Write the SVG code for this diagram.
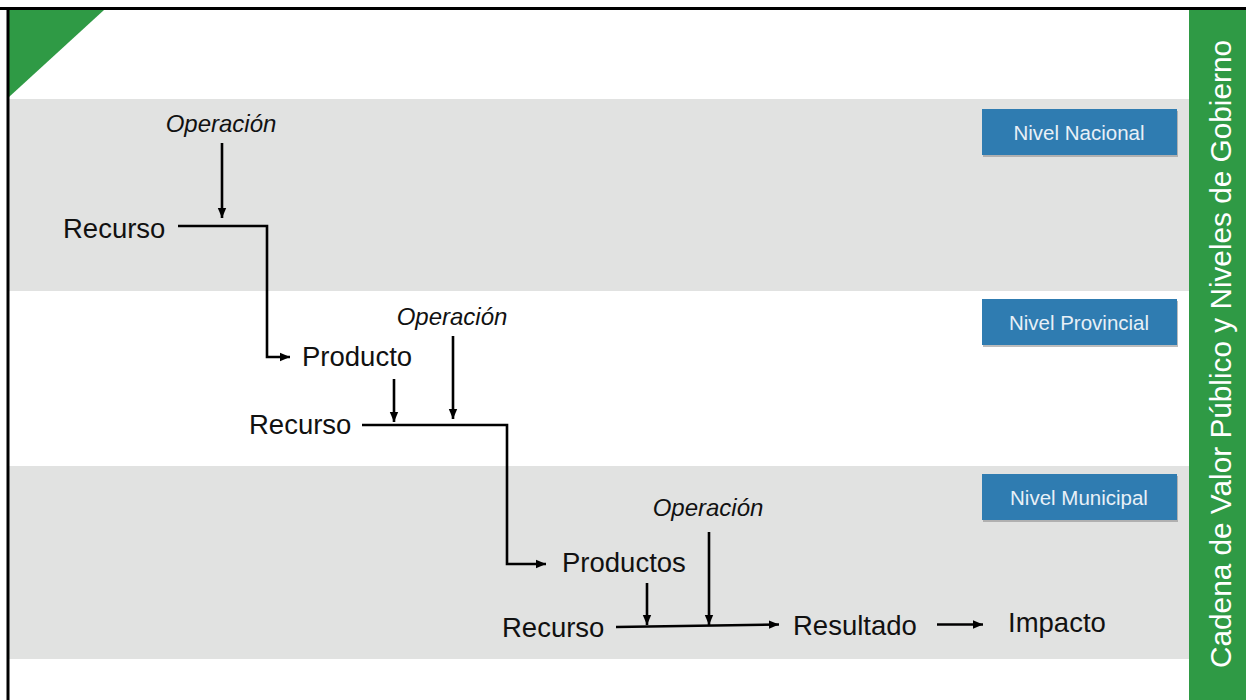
<svg xmlns="http://www.w3.org/2000/svg" width="1246" height="700" viewBox="0 0 1246 700">
  <defs>
    <marker id="arrow" viewBox="0 0 10 10" refX="10" refY="5" markerWidth="10" markerHeight="10" markerUnits="userSpaceOnUse" orient="auto">
      <path d="M0,0.8 L10,5 L0,9.2 Z" fill="#000"/>
    </marker>
    <style>
      .band { fill: #e1e2e1; }
      .node { font-family: "Liberation Sans", Arial, sans-serif; font-size: 27.5px; fill: #111; }
      .op { font-family: "Liberation Sans", Arial, sans-serif; font-size: 24px; font-style: italic; fill: #111; text-anchor: middle; }
      .lvl rect.box { fill: #2f7cb1; }
      .lvl rect.shadow { fill: #8f8f8f; opacity: 0.6; }
      .lvl text { font-family: "Liberation Sans", Arial, sans-serif; font-size: 20.5px; fill: #e8f0f7; text-anchor: middle; }
      .conn { fill: none; stroke: #000; stroke-width: 2.6; }
      .title { font-family: "Liberation Sans", Arial, sans-serif; font-size: 29px; fill: #ffffff; }
    </style>
  </defs>

  <!-- background and level bands -->
  <rect x="0" y="0" width="1246" height="700" fill="#ffffff"/>
  <rect class="band" x="9" y="99" width="1180" height="192"/>
  <rect class="band" x="9" y="466" width="1180" height="193"/>

  <!-- corner triangle -->
  <polygon points="9,10 104,10 9,97" fill="#2f9a45"/>

  <!-- side title bar -->
  <g id="title-bar">
    <rect x="1189" y="10" width="57" height="690" fill="#2f9a45"/>
    <text class="title" transform="translate(1231,668) rotate(-90)" textLength="628" lengthAdjust="spacingAndGlyphs">Cadena de Valor Público y Niveles de Gobierno</text>
  </g>

  <!-- frame -->
  <line x1="0" y1="8.5" x2="1246" y2="8.5" stroke="#000" stroke-width="3"/>
  <line x1="8" y1="7" x2="8" y2="700" stroke="#000" stroke-width="3"/>

  <!-- level labels -->
  <g id="nivel-nacional" class="lvl">
    <rect class="shadow" x="983" y="111" width="195" height="46"/>
    <rect class="box" x="982" y="109" width="195" height="46"/>
    <text x="1079" y="140">Nivel Nacional</text>
  </g>
  <g id="nivel-provincial" class="lvl">
    <rect class="shadow" x="983" y="301" width="195" height="46"/>
    <rect class="box" x="982" y="299" width="195" height="46"/>
    <text x="1079" y="330">Nivel Provincial</text>
  </g>
  <g id="nivel-municipal" class="lvl">
    <rect class="shadow" x="983" y="476" width="195" height="46"/>
    <rect class="box" x="982" y="474" width="195" height="46"/>
    <text x="1079" y="505">Nivel Municipal</text>
  </g>

  <!-- nodes -->
  <g id="operacion-1"><text class="op" x="221" y="132">Operación</text></g>
  <g id="recurso-1"><text class="node" x="63" y="238">Recurso</text></g>
  <g id="producto"><text class="node" x="302" y="366">Producto</text></g>
  <g id="operacion-2"><text class="op" x="452" y="325">Operación</text></g>
  <g id="recurso-2"><text class="node" x="249" y="434">Recurso</text></g>
  <g id="productos"><text class="node" x="562" y="572">Productos</text></g>
  <g id="operacion-3"><text class="op" x="708" y="516">Operación</text></g>
  <g id="recurso-3"><text class="node" x="502" y="637">Recurso</text></g>
  <g id="resultado"><text class="node" x="793" y="635">Resultado</text></g>
  <g id="impacto"><text class="node" x="1008" y="632">Impacto</text></g>

  <!-- connectors -->
  <g id="connectors">
    <path class="conn" d="M222,143 V218" marker-end="url(#arrow)"/>
    <path class="conn" d="M178,226 H267 V357 H290" marker-end="url(#arrow)"/>
    <path class="conn" d="M394,379 V422" marker-end="url(#arrow)"/>
    <path class="conn" d="M453,336 V419" marker-end="url(#arrow)"/>
    <path class="conn" d="M362,425 H507 V564 H546" marker-end="url(#arrow)"/>
    <path class="conn" d="M647,583 V625" marker-end="url(#arrow)"/>
    <path class="conn" d="M709,532 V625" marker-end="url(#arrow)"/>
    <path class="conn" d="M616,627 L779,624.5" marker-end="url(#arrow)"/>
    <path class="conn" d="M937,624.5 H983" marker-end="url(#arrow)"/>
  </g>
</svg>
